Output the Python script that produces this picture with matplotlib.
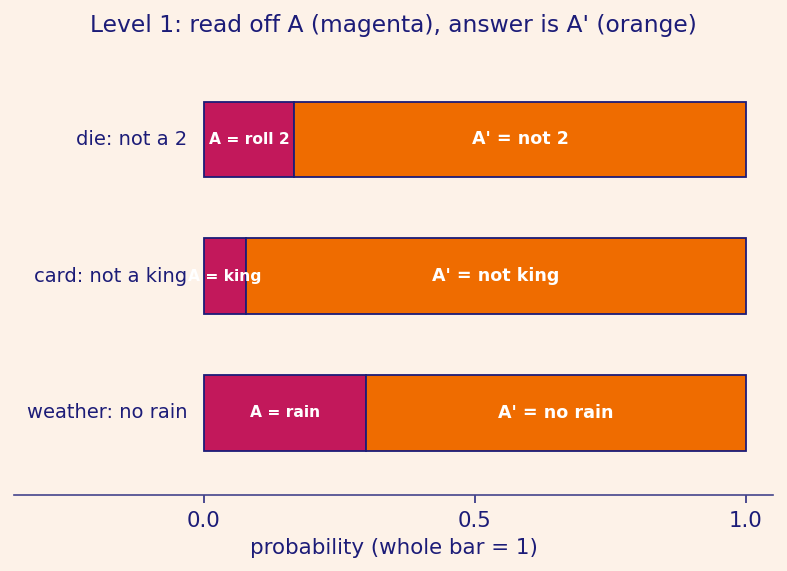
import matplotlib
matplotlib.use("Agg")
import matplotlib.pyplot as plt

categories = ["die: not a 2", "card: not a king", "weather: no rain"]
p_A = [1/6, 4/52, 0.3]
labels_A = ["A = roll 2", "A = king", "A = rain"]
labels_Ac = ["A' = not 2", "A' = not king", "A' = no rain"]
xticks = [0.0, 0.5, 1.0]

BG = "#fdf2e8"
NAVY = "#1c1c78"
MAG = "#c2185b"
ORA = "#ef6c00"

fig = plt.figure(figsize=(7.87, 5.71), dpi=100, facecolor=BG)
ax = fig.add_axes([0.018, 0.133, 0.964, 0.767], facecolor=BG)

y = list(range(len(categories)))
p_Ac = [1 - p for p in p_A]
ax.barh(y, p_A, height=0.55, color=MAG, edgecolor=NAVY, linewidth=1.3)
ax.barh(y, p_Ac, left=p_A, height=0.55, color=ORA, edgecolor=NAVY, linewidth=1.3)

for i in y:
    ax.text(p_A[i] / 2, i, labels_A[i], ha="center", va="center", color="white",
            fontsize=11.2, fontweight="bold")
    ax.text(p_A[i] + p_Ac[i] / 2, i, labels_Ac[i], ha="center", va="center",
            color="white", fontsize=12.6, fontweight="bold")
    ax.text(-0.03, i, categories[i], ha="right", va="center", color=NAVY, fontsize=14)

ax.set_ylim(len(categories) - 1 + 0.6, -0.6)
ax.set_xlim(-0.35, 1.05)
ax.set_yticks([])
ax.set_xticks(xticks)
ax.set_xticklabels([f"{t:.1f}" for t in xticks])
ax.tick_params(axis="x", colors=NAVY, labelsize=15.3, length=6, width=1.1, pad=5.5)
for s in ["top", "left", "right"]:
    ax.spines[s].set_visible(False)
ax.spines["bottom"].set_color("#45458c")
ax.spines["bottom"].set_linewidth(1.2)
ax.set_xlabel("probability (whole bar = 1)", color=NAVY, fontsize=15.4, labelpad=5)
fig.suptitle("Level 1: read off A (magenta), answer is A' (orange)", color=NAVY,
             fontsize=16.8, y=0.975)

fig.savefig("out.png", dpi=100, facecolor=BG)
